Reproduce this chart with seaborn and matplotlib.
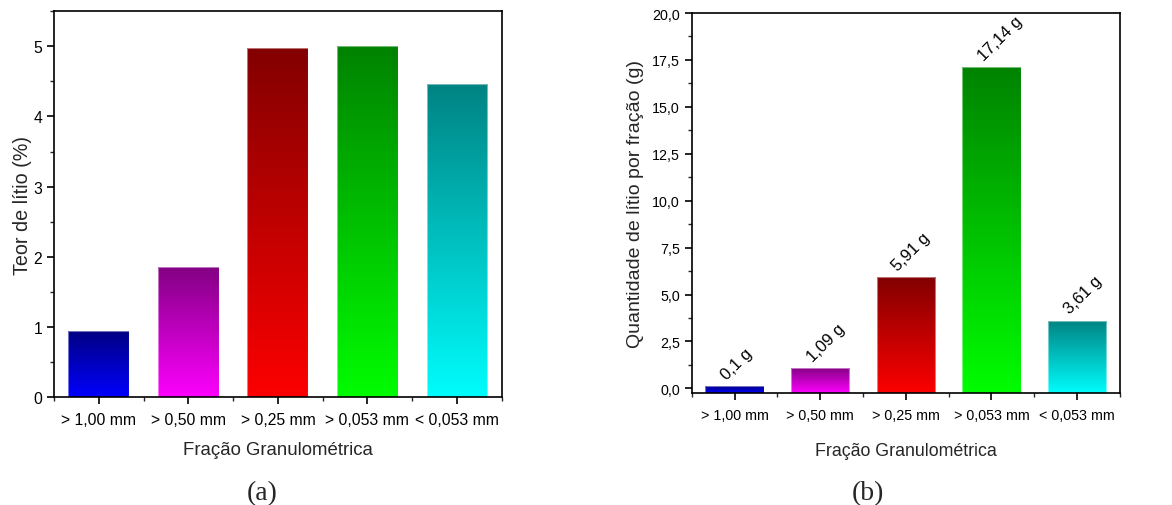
import numpy as np
import matplotlib
matplotlib.use("Agg")
import matplotlib.pyplot as plt
import seaborn as sns
from matplotlib.colors import LinearSegmentedColormap
from matplotlib.ticker import MultipleLocator, FuncFormatter, FixedLocator

categories = ["> 1,00 mm", "> 0,50 mm", "> 0,25 mm", "> 0,053 mm", "< 0,053 mm"]
teor_litio = [0.94, 1.86, 4.97, 5.00, 4.47]
quantidade_litio = [0.10, 1.09, 5.91, 17.14, 3.61]
bar_labels_b = ["0,1 g", "1,09 g", "5,91 g", "17,14 g", "3,61 g"]
bright_colors = ["#0000FF", "#FF00FF", "#FF0000", "#00FF00", "#00FFFF"]
dark_colors = ["#000080", "#800080", "#800000", "#008000", "#008080"]

sns.set_theme(style="ticks")
plt.rcParams["font.family"] = ["Liberation Sans", "DejaVu Sans"]
plt.rcParams["axes.linewidth"] = 1.2

fig = plt.figure(figsize=(11.72, 5.06), dpi=100)
ax_a = fig.add_axes([0.0461, 0.2134, 0.3820, 0.7623])
ax_b = fig.add_axes([0.5902, 0.2213, 0.3654, 0.7510])


def gradient_bars(ax, values, ylim):
    sns.barplot(x=categories, y=values, ax=ax, color="white", width=0.68,
                saturation=1, errorbar=None)
    base = ylim[0]
    for patch, lo, hi in zip(ax.patches, bright_colors, dark_colors):
        # bars drawn from the bottom of the axis (as in the original software)
        top = patch.get_y() + patch.get_height()
        patch.set_y(base)
        patch.set_height(top - base)
        x0, y0 = patch.get_x(), patch.get_y()
        w, h = patch.get_width(), patch.get_height()
        cmap = LinearSegmentedColormap.from_list("g", [lo, hi])
        grad = np.linspace(0, 1, 256).reshape(-1, 1)
        pad = 0.02 * h
        im = ax.imshow(grad, cmap=cmap, origin="lower", aspect="auto",
                       extent=[x0 - 0.02, x0 + w + 0.02, y0 - pad, y0 + h + pad],
                       zorder=2, interpolation="bilinear")
        im.set_clip_path(patch)
        patch.set_facecolor("none")
        patch.set_edgecolor((1, 1, 1, 0.45))
        patch.set_linewidth(0.8)
        patch.set_zorder(3)
    ax.set_xlim(-0.5, 4.5)
    ax.set_ylim(*ylim)


def style_axes(ax, tick_fs):
    for s in ax.spines.values():
        s.set_visible(True)
        s.set_linewidth(1.2)
        s.set_color("black")
        s.set_zorder(4)
    ax.xaxis.set_minor_locator(FixedLocator(np.arange(-0.5, 4.6, 1.0)))
    ax.tick_params(axis="both", which="major", direction="out", length=5,
                   width=1.2, labelsize=tick_fs, colors="black")
    ax.tick_params(axis="both", which="minor", direction="out", length=3,
                   width=1.0)
    ax.tick_params(axis="x", which="major", pad=6)
    ax.grid(False)


# (a)
gradient_bars(ax_a, teor_litio, (0, 5.5))
style_axes(ax_a, 11.3)
ax_a.yaxis.set_major_locator(MultipleLocator(1))
ax_a.yaxis.set_minor_locator(MultipleLocator(0.5))
ax_a.set_ylabel("Teor de lítio (%)", fontsize=14.2, labelpad=1)
ax_a.set_xlabel("Fração Granulométrica", fontsize=13.4, labelpad=10)

# (b)
gradient_bars(ax_b, quantidade_litio, (-0.25, 20.0))
style_axes(ax_b, 10.3)
ax_b.yaxis.set_major_locator(MultipleLocator(2.5))
ax_b.yaxis.set_minor_locator(MultipleLocator(1.25))
ax_b.yaxis.set_major_formatter(FuncFormatter(lambda v, p: f"{v:.1f}".replace(".", ",")))
ax_b.set_ylabel("Quantidade de lítio por fração (g)", fontsize=14.0, labelpad=6)
ax_b.set_xlabel("Fração Granulométrica", fontsize=12.8, labelpad=14)
for i, (v, lab) in enumerate(zip(quantidade_litio, bar_labels_b)):
    ax_b.annotate(lab, xy=(i, v), xytext=(-4, 3), textcoords="offset points",
                  rotation=45, ha="left", va="bottom", rotation_mode="anchor",
                  fontsize=12, color="black")

fig.text(0.2235, 0.0, "(a)", fontsize=20, family=["Liberation Serif", "DejaVu Serif"],
         ha="center", va="bottom")
fig.text(0.7406, 0.0, "(b)", fontsize=20, family=["Liberation Serif", "DejaVu Serif"],
         ha="center", va="bottom")

fig.savefig("out.png", dpi=100)
